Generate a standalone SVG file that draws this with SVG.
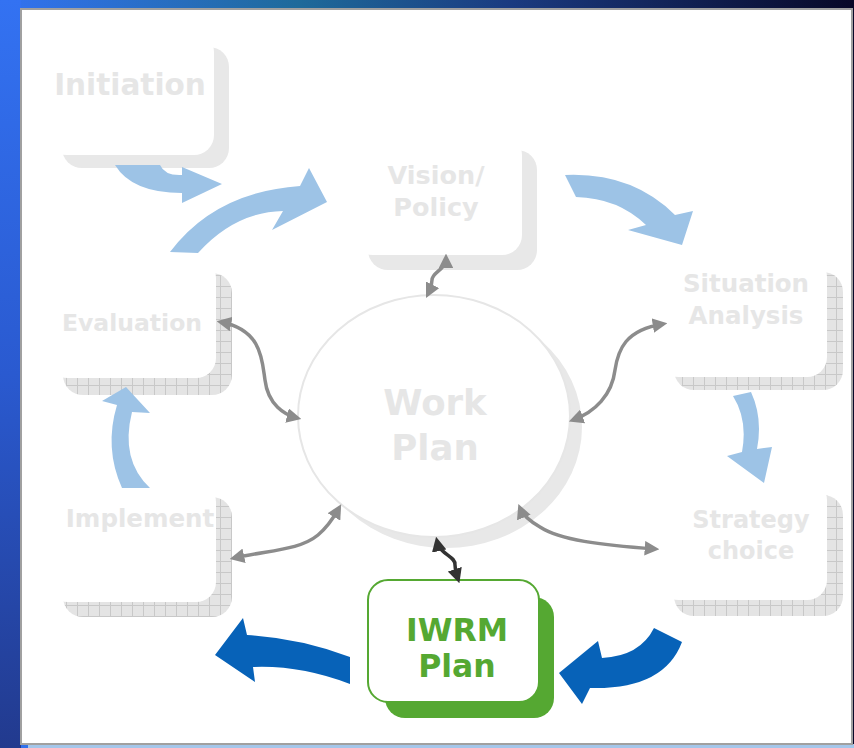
<svg xmlns="http://www.w3.org/2000/svg" width="854" height="748" viewBox="0 0 854 748">
<defs>
<linearGradient id="topg" x1="0" y1="0" x2="1" y2="0">
<stop offset="0" stop-color="#3372f2"/>
<stop offset="0.35" stop-color="#1e6a9a"/>
<stop offset="0.6" stop-color="#1a3a80"/>
<stop offset="1" stop-color="#080828"/>
</linearGradient>
<linearGradient id="leftg" x1="0" y1="0" x2="0" y2="1">
<stop offset="0" stop-color="#3372f2"/>
<stop offset="0.5" stop-color="#2a5ad0"/>
<stop offset="1" stop-color="#223a8e"/>
</linearGradient>
<pattern id="grid" width="11" height="11" patternUnits="userSpaceOnUse">
<rect width="11" height="11" fill="#e4e4e4"/>
<path d="M0,0.5H11M0.5,0V11" stroke="#c8c8c8" stroke-width="1"/>
</pattern>
<marker id="ah" viewBox="0 0 10 10" refX="7" refY="5" markerWidth="4.2" markerHeight="4.2" orient="auto-start-reverse" markerUnits="strokeWidth">
<path d="M0,0L10,5L0,10Z" fill="#8c8c8c"/>
</marker>
<marker id="ahd" viewBox="0 0 10 10" refX="7" refY="5" markerWidth="4.2" markerHeight="4.2" orient="auto-start-reverse" markerUnits="strokeWidth">
<path d="M0,0L10,5L0,10Z" fill="#333333"/>
</marker>
<style>
.lbl{font-family:"DejaVu Sans","Liberation Sans",sans-serif;font-weight:bold;fill:#e6e6e6;text-anchor:middle}
.box{fill:#ffffff}
.sh{fill:#e8e8e8}
.shg{fill:url(#grid)}
.lb{fill:#9dc3e6}
.db{fill:#0762b8}
.gc{fill:none;stroke:#8c8c8c;stroke-width:3.5;marker-start:url(#ah);marker-end:url(#ah)}
.dc{fill:none;stroke:#333333;stroke-width:3.5;marker-start:url(#ahd);marker-end:url(#ahd)}
</style>
</defs>
<g id="background">
<rect x="0" y="0" width="854" height="748" fill="url(#topg)"/>
<rect x="0" y="0" width="21" height="748" fill="url(#leftg)"/>
<rect x="28" y="744" width="826" height="4" fill="#a4c6ea"/>
<rect x="21" y="9" width="831" height="735" fill="#ffffff" stroke="#a0a0a0" stroke-width="2"/>
</g>
<g id="node-initiation">
<rect class="sh" x="62" y="47" width="167" height="121" rx="20"/>
<rect class="box" x="47" y="32" width="167" height="123" rx="20"/>
<text class="lbl" x="130" y="95" font-size="29.5">Initiation</text>
</g>
<g id="node-vision">
<rect class="sh" x="368" y="150" width="169" height="120" rx="20"/>
<rect class="box" x="353" y="135" width="169" height="120" rx="20"/>
<text class="lbl" x="436" y="184" font-size="25.5">Vision/</text>
<text class="lbl" x="436" y="216" font-size="25.5">Policy</text>
</g>
<g id="node-situation">
<rect class="shg" x="674" y="272" width="169" height="118" rx="20"/>
<rect class="box" x="659" y="257" width="168" height="120" rx="20"/>
<text class="lbl" x="746" y="292" font-size="24.5">Situation</text>
<text class="lbl" x="746" y="324" font-size="24.5">Analysis</text>
</g>
<g id="node-evaluation">
<rect class="shg" x="63" y="273" width="169" height="122" rx="20"/>
<rect class="box" x="48" y="258" width="168" height="120" rx="20"/>
<text class="lbl" x="132" y="331" font-size="23.5">Evaluation</text>
</g>
<g id="node-implement">
<rect class="shg" x="63" y="497" width="169" height="120" rx="20"/>
<rect class="box" x="48" y="482" width="168" height="120" rx="20"/>
<text class="lbl" x="140" y="527" font-size="24.5">Implement</text>
</g>
<g id="node-strategy">
<rect class="shg" x="674" y="495" width="169" height="121" rx="20"/>
<rect class="box" x="659" y="480" width="168" height="120" rx="20"/>
<text class="lbl" x="751" y="528" font-size="24">Strategy</text>
<text class="lbl" x="751" y="559" font-size="24">choice</text>
</g>
<g id="node-workplan">
<ellipse cx="446" cy="427" rx="136" ry="121" fill="#e8e8e8"/>
<ellipse cx="434" cy="416" rx="136" ry="121" fill="#ffffff" stroke="#e6e6e6" stroke-width="2"/>
<text class="lbl" x="435" y="415" font-size="35.5">Work</text>
<text class="lbl" x="435" y="460" font-size="35.5">Plan</text>
</g>
<g id="node-iwrm">
<rect x="385" y="597" width="169" height="121" rx="20" fill="#55a832"/>
<rect x="368" y="580" width="171" height="122" rx="20" fill="#ffffff" stroke="#55a832" stroke-width="2"/>
<text class="lbl" x="457" y="641" font-size="31.5" style="fill:#55a832">IWRM</text>
<text class="lbl" x="457" y="677" font-size="31.5" style="fill:#55a832">Plan</text>
</g>
<g id="connectors">
<path class="lb" d="M115,165 Q132,193 182,193 L182,203 L222,184 L182,167 L182,175 Q165,176 160,165 Z"/>
<path class="lb" d="M170,252 Q215,192 300,186 L309,168 L327,202 L272,230 L283,211 Q235,212 198,253 Z"/>
<path class="lb" d="M565,175 Q632,172 675,215 L693,211 L682,245 L628,230 L646,225 Q618,198 576,197 Z"/>
<path class="lb" d="M733,396 Q748,420 742,452 L727,456 L764,483 L772,447 L757,449 Q763,418 751,392 Z"/>
<path class="lb" d="M150,488 Q120,460 132,412 L150,413 L126,387 L102,401 L117,405 Q104,448 122,488 Z"/>
<path class="db" d="M654,628 Q640,656 602,658 L598,641 L559,673 L582,704 L590,688 Q664,690 682,642 Z"/>
<path class="db" d="M350,657 Q300,638 247,635 L243,618 L215,655 L255,682 L253,667 Q300,665 350,684 Z"/>
<path class="gc" d="M221,322 C262,330 262,360 265,380 C268,405 285,415 297,418"/>
<path class="gc" d="M663,324 C625,330 618,350 615,370 C612,395 595,412 573,420"/>
<path class="gc" d="M234,558 C270,550 300,550 318,535 C330,525 335,515 339,508"/>
<path class="gc" d="M655,549 C600,545 560,540 540,527 C528,520 522,513 520,508"/>
<path class="gc" d="M446,258 C446,270 432,272 432,280 C432,287 430,290 428,294"/>
<path class="dc" d="M437,541 C440,555 456,556 455,565 C455,572 457,576 458,579"/>
</g>
</svg>
